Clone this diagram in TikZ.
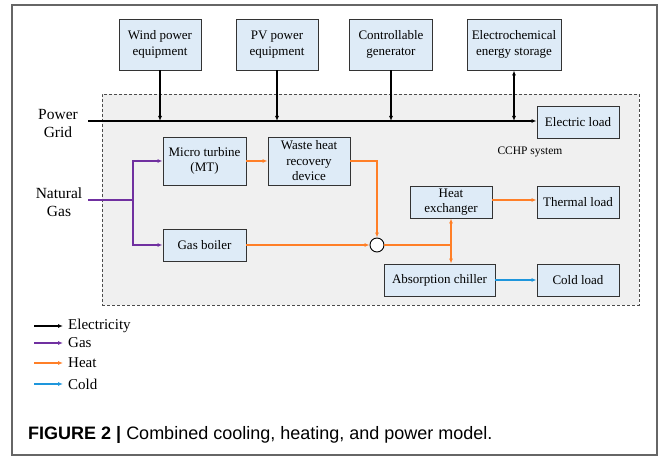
\documentclass[tikz,border=0pt]{standalone}
\usepackage{fontspec}
\setmainfont{Liberation Serif}
\newfontfamily\boxfont{Liberation Serif}
\newfontfamily\capfont{Liberation Sans}
\usetikzlibrary{arrows.meta,positioning,calc}
\definecolor{boxblue}{RGB}{222,235,247}
\definecolor{bggray}{RGB}{240,240,240}
\definecolor{gaspurple}{RGB}{112,48,160}
\definecolor{heatorange}{RGB}{255,127,39}
\definecolor{coldblue}{RGB}{30,150,220}
\tikzset{
  box/.style={draw=black!80, fill=boxblue, line width=0.9pt, align=center, inner sep=2pt, font=\boxfont\fontsize{13}{15.5}\selectfont},
  region/.style={draw=black!70, fill=bggray, dash pattern=on 3pt off 2pt, line width=0.8pt},
  lbl/.style={align=center, inner sep=1pt, font=\boxfont\fontsize{15.5}{18}\selectfont},
  legtext/.style={anchor=west, inner sep=2pt, font=\boxfont\fontsize{15}{17}\selectfont},
  elec/.style={-{Latex[length=5pt,width=4pt]}, line width=1.2pt},
  gas/.style={-{Latex[length=5pt,width=4pt]}, line width=1.2pt, draw=gaspurple},
  heat/.style={-{Latex[length=5pt,width=4pt]}, line width=1.2pt, draw=heatorange},
  cold/.style={-{Latex[length=5pt,width=4pt]}, line width=1.2pt, draw=coldblue}
}
\begin{document}
\begin{tikzpicture}[x=1pt, y=-1pt]
\useasboundingbox (0,0) rectangle (664,457);
\draw[black!60, line width=1.2pt] (12,5) rectangle (657,455);

% CCHP region
\node[region, minimum width=537pt, minimum height=211pt] (cchp) at (370.5,199.5) {};
\node[font=\boxfont\fontsize{11.5}{13}\selectfont] (cchplbl) at (530,152) {CCHP system};

% sources on top
\node[box, minimum width=82pt, minimum height=51pt] (wind) at (160,44.5) {Wind power\\equipment};
\node[box, minimum width=82pt, minimum height=51pt] (pv) at (277,44.5) {PV power\\equipment};
\node[box, minimum width=83pt, minimum height=51pt] (ctrl) at (391,44.5) {Controllable\\generator};
\node[box, minimum width=94pt, minimum height=51pt] (ees) at (514,44.5) {Electrochemical\\energy storage};

% loads and devices
\node[box, minimum width=82pt, minimum height=32pt] (eload) at (578,122) {Electric load};
\node[box, minimum width=83pt, minimum height=48pt] (mt) at (204.5,161) {Micro turbine\\(MT)};
\node[box, minimum width=82pt, minimum height=48pt] (whr) at (309,161) {Waste heat\\recovery\\device};
\node[box, minimum width=83pt, minimum height=32pt] (gb) at (204.5,245) {Gas boiler};
\node[draw=black, fill=white, circle, minimum size=14pt, inner sep=0pt, line width=0.9pt] (mix) at (377,245) {};
\node[box, minimum width=82pt, minimum height=32pt] (hx) at (451,202) {Heat\\exchanger};
\node[box, minimum width=82pt, minimum height=32pt] (tload) at (578,202) {Thermal load};
\node[box, minimum width=111pt, minimum height=32pt] (ac) at (439.5,280) {Absorption chiller};
\node[box, minimum width=82pt, minimum height=32pt] (cload) at (578,280) {Cold load};

\node[lbl] (gridlbl) at (58,124) {Power\\Grid};
\node[lbl] (gaslbl) at (59,202) {Natural\\Gas};
\coordinate (grid) at (88,121);
\coordinate (gasin) at (88,200);
\coordinate (gasfork) at (133,200);
\coordinate (split) at (451,245);

% electricity
\draw[elec] (grid) -- (eload.west |- grid);
\draw[elec] (wind.south) -- (wind.south |- grid);
\draw[elec] (pv.south) -- (pv.south |- grid);
\draw[elec] (ctrl.south) -- (ctrl.south |- grid);
\draw[elec, {Latex[length=5pt,width=4pt]}-{Latex[length=5pt,width=4pt]}] (ees.south) -- (ees.south |- grid);

% gas
\draw[gaspurple, line width=1.2pt] (gasin) -- (gasfork);
\draw[gas] (gasfork) |- (mt.west);
\draw[gas] (gasfork) |- (gb.west);

% heat
\draw[heat] (mt.east) -- (whr.west);
\draw[heat] (whr.east) -| (mix.north);
\draw[heat] (gb.east) -- (mix.west);
\draw[heatorange, line width=1.2pt] (mix.east) -- (split);
\draw[heat] (split) -- (hx.south);
\draw[heat] (split) -- (split |- ac.north);
\draw[heat] (hx.east |- 0,200) -- (tload.west |- 0,200);

% cold
\draw[cold] (ac.east) -- (cload.west);

% legend
\node[legtext] (lelec) at (66,326) {Electricity};
\node[legtext] (lgas) at (66,343) {Gas};
\node[legtext] (lheat) at (66,363) {Heat};
\node[legtext] (lcold) at (66,384) {Cold};
\draw[elec, shorten >=3pt] ([xshift=-32pt]lelec.west) -- (lelec.west);
\draw[gas, shorten >=3pt] ([xshift=-32pt]lgas.west) -- (lgas.west);
\draw[heat, shorten >=3pt] ([xshift=-32pt]lheat.west) -- (lheat.west);
\draw[cold, shorten >=3pt] ([xshift=-32pt]lcold.west) -- (lcold.west);

\node[anchor=west, inner sep=0pt, font=\capfont\fontsize{18}{20}\selectfont] (caption) at (28,435) {\textbf{FIGURE 2 |} Combined cooling, heating, and power model.};
\end{tikzpicture}
\end{document}
